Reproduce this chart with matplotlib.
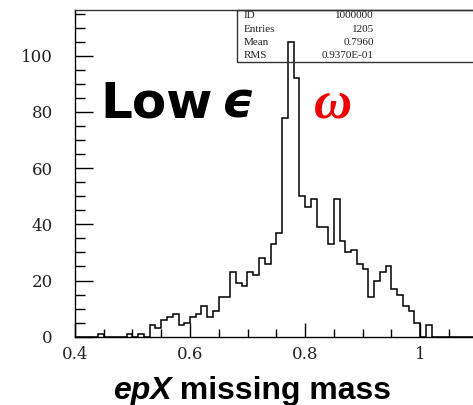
import numpy as np
import matplotlib
matplotlib.use("Agg")
import matplotlib.pyplot as plt
from matplotlib.patches import Rectangle
from matplotlib.ticker import MultipleLocator, FixedLocator

# epX missing mass, bins of 0.01 GeV starting at 0.40
x_lo = 0.40
bin_w = 0.01
counts = [0, 0, 0, 0, 1, 0, 0, 0, 0, 1, 0, 1, 0,
          4, 3, 6, 7, 8, 4, 5, 7, 8, 11, 7, 9,
          14, 14, 23, 19, 18, 23, 22, 28, 26, 33, 37,
          78, 105, 92, 50, 46, 49, 39, 39, 33, 49, 34, 30, 31, 26, 24,
          14, 20, 23, 25, 17, 15, 11, 9, 5, 0, 4,
          0, 0, 0, 0, 0, 0, 0, 0]
edges = x_lo + bin_w * np.arange(len(counts) + 1)

stat_names = ["ID", "Entries", "Mean", "RMS"]
stat_vals = ["1000000", "1205", "0.7960", "0.9370E-01"]

xticks = [0.4, 0.6, 0.8, 1.0]
xticklabels = ["0.4", "0.6", "0.8", "1"]
yticks = [0, 20, 40, 60, 80, 100]

W, H = 473, 405
fig = plt.figure(figsize=(W / 100, H / 100), dpi=100)
# frame: x=75..477 px, y=10..336.7 px (from top)
ax = fig.add_axes([75 / W, 68.3 / H, 402.5 / W, 326.7 / H])

ax.stairs(counts, edges, color="black", lw=1.1)

ax.set_xlim(0.4, 1.1)
ax.set_ylim(0, 116.3)
ax.spines["right"].set_visible(False)
for s in ("left", "bottom", "top"):
    ax.spines[s].set_linewidth(1.0)
ax.spines["top"].set_color("#333333")

ax.xaxis.set_major_locator(FixedLocator(xticks))
ax.set_xticklabels(xticklabels)
ax.xaxis.set_minor_locator(MultipleLocator(0.05))
ax.yaxis.set_major_locator(FixedLocator(yticks))
ax.yaxis.set_minor_locator(MultipleLocator(5))
ax.tick_params(axis="x", which="major", direction="in", length=10, width=1.0, pad=7)
ax.tick_params(axis="x", which="minor", direction="in", length=5.5, width=1.0)
ax.tick_params(axis="y", which="major", direction="in", length=13, width=1.0, pad=16)
ax.tick_params(axis="y", which="minor", direction="in", length=7, width=1.0)
for lab in ax.get_xticklabels() + ax.get_yticklabels():
    lab.set_fontfamily("DejaVu Serif")
    lab.set_fontsize(12)
    lab.set_color("#222222")

# stat box, PAW style, hanging from the top frame and running off the right edge
fig.patches.append(Rectangle((237 / W, (H - 62) / H), 0.6, 52 / H,
                             transform=fig.transFigure, fill=False,
                             lw=1.0, ec="#333333", clip_on=False))
for i, (nm, v) in enumerate(zip(stat_names, stat_vals)):
    yy = (H - (15.5 + 13.5 * i)) / H
    fig.text(244 / W, yy, nm, fontsize=8, family="Liberation Serif",
             va="center", ha="left", color="#222222")
    fig.text(374 / W, yy, v, fontsize=8, family="Liberation Serif",
             va="center", ha="right", color="#222222")

# annotations
fig.text(100 / W, (H - 117) / H, "Low", fontsize=36, family="DejaVu Sans",
         weight="bold", ha="left", va="baseline")
fig.text(222 / W, (H - 117) / H, "ϵ", fontsize=36, family="DejaVu Sans",
         style="italic", weight="bold", ha="left", va="baseline")
fig.text(314 / W, (H - 118) / H, "ω", fontsize=38, family="Liberation Serif",
         style="italic", weight="bold", color="#ee0000", ha="left", va="baseline")

# x axis title with italic "epX"
t1 = fig.text(0, (H - 399) / H, "epX", fontsize=23, family="Liberation Sans",
              weight="bold", style="italic", ha="left", va="baseline")
t2 = fig.text(0, (H - 399) / H, " missing mass", fontsize=23,
              family="Liberation Sans", weight="bold", ha="left", va="baseline")
fig.canvas.draw()
r = fig.canvas.get_renderer()
w1 = t1.get_window_extent(r).width
w2 = t2.get_window_extent(r).width
x0 = 252 - (w1 + w2) / 2
t1.set_x(x0 / W)
t2.set_x((x0 + w1) / W)

fig.savefig("out.png", dpi=100)
